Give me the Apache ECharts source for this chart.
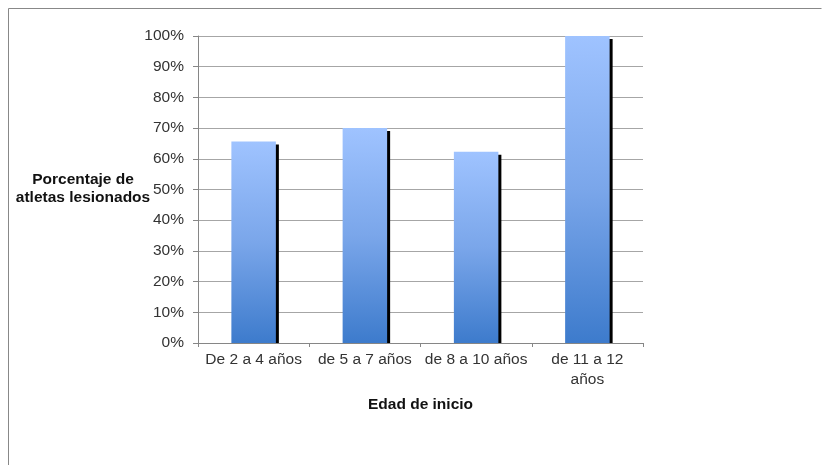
<!DOCTYPE html>
<html>
<head>
<meta charset="utf-8">
<script src="https://cdn.jsdelivr.net/npm/echarts@6/dist/echarts.min.js"></script>
<style>
  html, body { margin: 0; padding: 0; background: #fff; }
  #chart { width: 822px; height: 465px; }
</style>
</head>
<body>
<div id="chart"></div>
<script>
var categories = ['De 2 a 4 años', 'de 5 a 7 años', 'de 8 a 10 años', 'de 11 a 12\naños'];
var values = [0.656, 0.70, 0.623, 1.0];
var yTicks = [0, 0.1, 0.2, 0.3, 0.4, 0.5, 0.6, 0.7, 0.8, 0.9, 1.0];

var font = '"Liberation Sans", Arial, sans-serif';

var data = [];
for (var i = 0; i < values.length; i++) {
    data.push([i, values[i]]);
}

var chart = echarts.init(document.getElementById('chart'));

var option = {
    backgroundColor: '#fff',
    animation: false,
    grid: { left: 198, right: 179, top: 36, bottom: 122 },
    graphic: [
        {
            type: 'polyline',
            shape: { points: [[8.5, 470], [8.5, 8.5], [821.5, 8.5]] },
            style: { stroke: '#888', lineWidth: 1, fill: null }
        },
        {
            type: 'text',
            x: 83,
            y: 189,
            style: {
                text: 'Porcentaje de\natletas lesionados',
                font: 'bold 15.5px ' + font,
                fill: '#111',
                textAlign: 'center',
                textVerticalAlign: 'middle',
                lineHeight: 18
            }
        }
    ],
    xAxis: {
        type: 'category',
        data: categories,
        name: 'Edad de inicio',
        nameLocation: 'middle',
        nameGap: 54,
        nameTextStyle: { fontFamily: font, fontWeight: 'bold', fontSize: 15.5, color: '#111' },
        axisLine: { lineStyle: { color: '#868686' } },
        axisTick: { show: true, length: 4, lineStyle: { color: '#868686' } },
        axisLabel: { fontFamily: font, fontSize: 15.5, color: '#333', margin: 7, lineHeight: 20, interval: 0 },
        splitLine: { show: false }
    },
    yAxis: {
        type: 'value',
        min: 0,
        max: 1,
        interval: 0.1,
        axisLine: { show: true, lineStyle: { color: '#868686' } },
        axisTick: { show: true, length: 5, lineStyle: { color: '#868686' } },
        axisLabel: {
            fontFamily: font, fontSize: 15.5, color: '#333', margin: 14,
            formatter: function (v) { return Math.round(v * 100) + '%'; }
        },
        splitLine: { lineStyle: { color: '#a6a6a6' } }
    },
    series: [{
        type: 'custom',
        data: data,
        encode: { x: 0, y: 1 },
        renderItem: function (params, api) {
            var top = api.coord([api.value(0), api.value(1)]);
            var base = api.coord([api.value(0), 0]);
            var w = api.size([1, 0])[0] * 0.4;
            var h = base[1] - top[1];
            return {
                type: 'group',
                children: [
                    {
                        type: 'rect',
                        shape: { x: top[0] + w / 2 - 1, y: top[1] + 3, width: 4, height: h - 3 },
                        style: { fill: '#000' }
                    },
                    {
                        type: 'rect',
                        shape: { x: top[0] - w / 2, y: top[1], width: w, height: h },
                        style: {
                            fill: new echarts.graphic.LinearGradient(0, 0, 0, 1, [
                                { offset: 0, color: '#9fc3ff' },
                                { offset: 0.5, color: '#7aa6ea' },
                                { offset: 1, color: '#3d7bcc' }
                            ])
                        }
                    }
                ]
            };
        }
    }]
};

chart.setOption(option);
</script>
</body>
</html>
